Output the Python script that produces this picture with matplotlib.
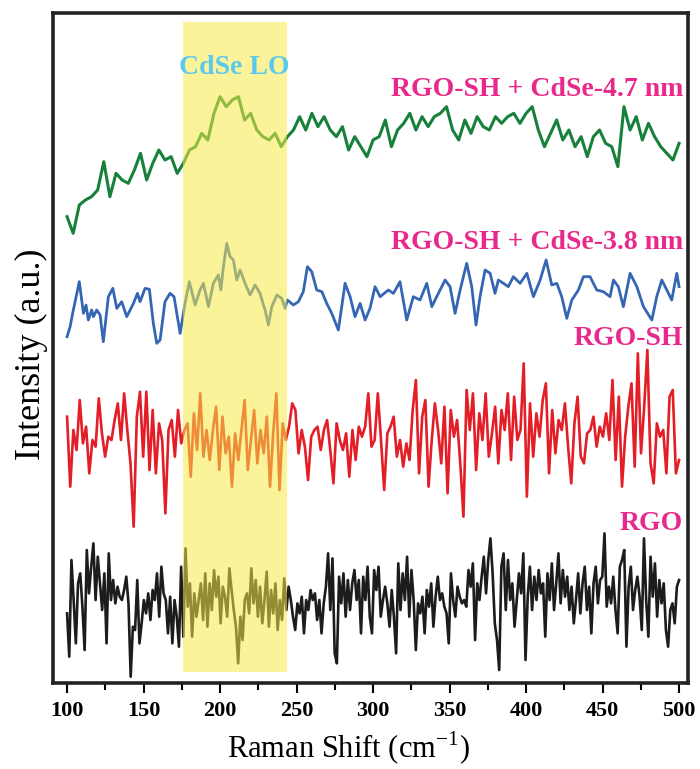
import matplotlib
matplotlib.use('Agg')
import matplotlib.pyplot as plt
import numpy as np
from matplotlib.ticker import MultipleLocator

plt.rcParams['font.family'] = ['Liberation Serif', 'DejaVu Serif']
plt.rcParams['mathtext.fontset'] = 'custom'
plt.rcParams['mathtext.rm'] = 'Liberation Serif'

# RGO-SH + CdSe-4.7 nm, sampled every 4 cm-1
green_x = np.arange(100, 501, 4)
green_y = [90, 40, 125, 140, 150, 170, 255, 150, 220, 200, 190, 230, 280, 200, 250, 290, 260,
           270, 220, 250, 290, 300, 340, 320, 400, 450, 420, 440, 450, 380, 400, 350, 330, 320,
           340, 300, 330, 350, 390, 350, 400, 360, 390, 350, 330, 360, 290, 330, 300, 270, 320,
           330, 380, 300, 350, 370, 400, 350, 390, 360, 390, 400, 420, 350, 320, 380, 340, 390,
           360, 350, 390, 370, 390, 400, 370, 400, 420, 350, 300, 340, 380, 320, 350, 300, 330,
           270, 330, 350, 310, 300, 240, 420, 350, 390, 320, 370, 330, 300, 280, 260, 310]

# RGO-SH + CdSe-3.8 nm
blue_x = [100, 102, 104.1, 108, 110.7, 112.4, 113.9, 116.1, 117.2, 119.4, 121.6, 123.7, 127,
          129.9, 132.5, 135.7, 139, 143.4, 146, 147.7, 151, 153.8, 156.4, 158.6, 160.8, 164,
          167.3, 169.9, 173.9, 177.1, 179.9, 183.7, 186.9, 189.1, 192.4, 195.6, 198.9, 200.5,
          202.2, 204.4, 206.5, 208.7, 210.9, 213.1, 216.3, 219.6, 222.9, 226.1, 229.4, 231.6,
          233.8, 237.1, 240.3, 242.5, 244, 247.9, 251.2, 254.4, 257.1, 259.9, 263.2, 266.5,
          269.7, 273, 277.3, 281.7, 285, 288.2, 291.5, 294.8, 298, 301.3, 304.6, 310, 313.3,
          317.6, 322, 326.3, 330.7, 335.1, 338.4, 341.6, 347.1, 350.3, 353.6, 356.9, 361.2,
          364.5, 367.3, 369.9, 373.2, 376.5, 379.7, 381.9, 385.2, 388.4, 391.7, 396.1, 400.5,
          404.8, 409.2, 413.1, 416.8, 420.1, 423.3, 426.6, 429.9, 434.2, 437.5, 441.8, 446.2,
          450.5, 454.9, 457.1, 460.3, 463.6, 468, 472.4, 476.7, 482.2, 485.4, 488.7, 492,
          495.2, 498.5, 500]
blue_y = [80, 110, 160, 245, 150, 175, 130, 160, 140, 160, 145, 65, 200, 225, 165, 185, 140,
          180, 210, 185, 225, 222, 120, 60, 70, 185, 210, 200, 90, 180, 245, 175, 220, 240, 170,
          240, 265, 220, 290, 360, 320, 310, 250, 280, 240, 205, 235, 210, 160, 115, 170, 205,
          195, 165, 190, 175, 185, 215, 290, 275, 220, 215, 180, 150, 100, 240, 200, 140, 180,
          130, 165, 230, 200, 220, 210, 245, 130, 200, 190, 240, 170, 200, 250, 230, 150, 220,
          300, 230, 115, 200, 280, 270, 210, 250, 240, 230, 260, 240, 270, 200, 250, 310, 235,
          240, 200, 135, 190, 220, 260, 260, 220, 215, 200, 250, 230, 170, 270, 230, 170, 130,
          200, 250, 220, 190, 270, 230]

# RGO-SH
red_y = [340, 130, 300, 240, 390, 260, 310, 170, 270, 250, 395, 290, 220, 280, 270, 330, 380,
         270, 410, 300, 200, 10, 340, 415, 220, 415, 180, 360, 170, 320, 270, 50, 300, 330, 220,
         360, 260, 300, 320, 160, 350, 240, 410, 220, 300, 210, 300, 370, 180, 340, 230, 280,
         130, 290, 210, 300, 390, 180, 270, 360, 200, 300, 230, 340, 130, 290, 410, 120, 320,
         270, 310, 380, 360, 230, 300, 250, 150, 280, 300, 310, 240, 300, 330, 240, 140, 320,
         270, 240, 290, 160, 300, 210, 310, 280, 310, 410, 250, 270,
         410, 270, 120, 290, 310, 340, 220, 270, 190, 260, 210, 360, 450, 170, 340, 390, 130,
         270, 380, 300, 200, 370, 110, 360, 280, 330, 200, 40, 420, 300, 410, 180, 350, 270,
         410, 220, 290, 370, 200, 360, 300, 410, 210, 400, 270, 300, 500, 100, 380, 220, 350,
         280, 390, 440, 170, 360, 230, 330, 300, 380, 250, 140, 320, 400, 220, 200, 290, 300,
         340, 250, 310, 280, 350, 270, 450, 210, 400, 130, 280, 370, 440, 190, 530, 230, 370,
         540, 200, 140, 320, 280, 300, 170, 400, 420, 170, 210]
red_x = np.linspace(100, 500, len(red_y))

# RGO
black_y = [210, 80, 370, 250, 120, 300, 330, 230, 100, 400, 270, 350, 420, 250, 380, 300, 220,
           330, 120, 390, 250, 310, 240, 290, 260, 250, 280, 320, 240, 20, 170, 160, 310, 120,
           180, 250, 210, 270, 190, 280, 250, 330, 200, 350, 270, 250, 150, 260, 120, 250, 200,
           110, 350, 140, 405, 230, 300, 140, 270, 200, 250, 300, 190, 330, 170, 300, 220, 340,
           260, 320, 180, 290, 260, 200, 345, 280, 220, 170, 60, 200, 130, 250, 270, 210, 345,
           240, 310, 200, 290, 180, 250, 335, 170, 280, 210, 300, 160, 250, 190, 315, 220, 290,
           250, 200, 160, 240, 210, 260, 150, 250, 220, 280, 250, 270, 190, 250, 150, 240, 290,
           390, 220, 375, 90, 60, 320, 240, 330, 200, 310, 220, 300, 340, 250, 310, 150, 320,
           250, 350, 200,
           150, 340, 280, 350, 200, 250, 290, 240, 170, 280, 200, 90, 360, 220, 330, 250, 380,
           200, 340, 250, 100, 240, 210, 260, 150, 280, 230, 300, 170, 260, 320, 250, 270, 230,
           210, 120, 330, 250, 200, 290, 260, 240, 250, 230, 340, 290, 360, 130, 300, 250, 320,
           380, 270, 370, 435, 330, 180, 130, 40, 350, 390, 220, 370, 250, 300, 170, 250, 330,
           270, 390, 70, 260, 350, 220, 320, 250, 340, 270, 300, 140, 330, 250, 360, 220, 300,
           390, 240, 340, 260, 320, 220, 290, 180, 250, 330, 210, 300, 350, 220, 290, 150, 300,
           350, 240, 310, 320, 450, 230, 290, 240, 320, 220, 150, 350, 370, 400, 110, 290, 350,
           220, 280, 320, 260, 160, 435, 250, 140, 380, 260, 360, 200, 310, 240, 300, 160, 110,
           220, 240, 180, 290, 310]
black_x = np.linspace(100, 500, len(black_y))

labels = ['RGO-SH + CdSe-4.7 nm', 'RGO-SH + CdSe-3.8 nm', 'RGO-SH', 'RGO']
band = (176, 244)

fig = plt.figure(figsize=(7, 7.69), dpi=100)
ax = fig.add_axes([0.0757, 0.1118, 0.9073, 0.8713])

# stacked spectra: vertical shift for each trace
ax.plot(green_x, np.array(green_y) + 1360, color='#17803a', lw=2.2)
ax.plot(blue_x, np.array(blue_y) + 1010, color='#3466b4', lw=2.0)
ax.plot(red_x, np.array(red_y) + 510, color='#e31e26', lw=1.9)
ax.plot(black_x, np.array(black_y) + 50, color='#1c1c1c', lw=1.9)

# CdSe LO band drawn over the traces
ax.axvspan(band[0], band[1], ymin=0.016, ymax=0.987, color='#f6ea48', alpha=0.55,
           lw=0, zorder=5)
ax.text(209, 1896, 'CdSe LO', color='#5cc8ec', fontsize=20, fontweight='bold',
        ha='center', va='center', zorder=6)

pink = '#e8298b'
for lab, yy in zip(labels, [1830, 1374, 1086, 531]):
    ax.text(502.5, yy, lab, color=pink, fontsize=20, fontweight='bold',
            ha='right', va='center', zorder=6)

ax.set_xlim(90.8, 505.9)
ax.set_ylim(51, 2061)
ax.set_yticks([])
ax.xaxis.set_major_locator(MultipleLocator(50))
ax.xaxis.set_minor_locator(MultipleLocator(25))
ax.tick_params(axis='x', which='major', direction='out', length=7, width=1.5, pad=6,
               labelsize=16)
ax.tick_params(axis='x', which='minor', direction='out', length=5, width=1.5)
for lbl in ax.get_xticklabels():
    lbl.set_fontweight('bold')
for sp in ax.spines.values():
    sp.set_linewidth(2.6)
    sp.set_color('#222222')

ax.set_xlabel('Raman Shift (cm$^{\\mathregular{-1}}$)', fontsize=22)
ax.xaxis.set_label_coords(0.466, -0.07)
ax.set_ylabel('Intensity (a.u.)', fontsize=26)
ax.yaxis.set_label_coords(-0.008, 0.49)

fig.savefig('out.png', dpi=100)
